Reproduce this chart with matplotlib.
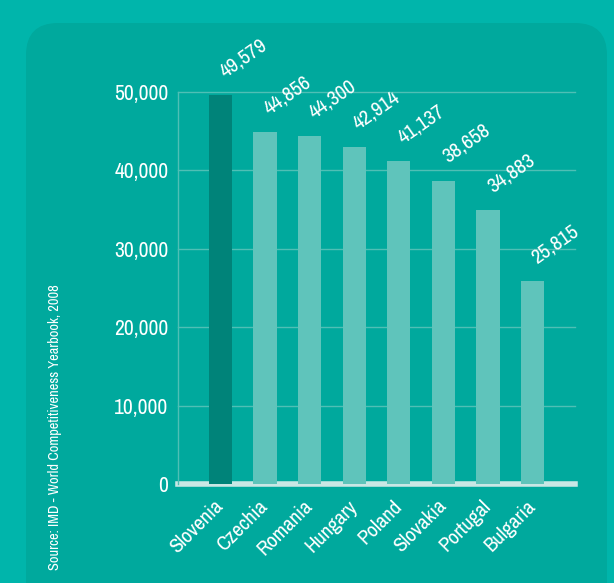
import matplotlib.pyplot as plt
from matplotlib import font_manager
from matplotlib.patches import FancyBboxPatch

countries = ["Slovenia", "Czechia", "Romania", "Hungary", "Poland",
             "Slovakia", "Portugal", "Bulgaria"]
values = [49579, 44856, 44300, 42914, 41137, 38658, 34883, 25815]
yticks = [0, 10000, 20000, 30000, 40000, 50000]
source_note = "Source: IMD - World Competitiveness Yearbook, 2008"

OUTER_BG = "#00b5ab"
CORNER_BG = "#00aca1"
PANEL_BG = "#00a99d"
HIGHLIGHT = "#008379"
BAR_COLOR = "#5fc4bb"
GRID_COLOR = "#4fbfb5"
BASE_COLOR = "#c9e7e5"
TEXT_COLOR = "white"

# condensed face if one is installed
names = sorted({f.name for f in font_manager.fontManager.ttflist})
condensed = [n for n in names if "Narrow" in n or "Condensed" in n]
plt.rcParams["font.family"] = condensed + ["Liberation Sans", "DejaVu Sans"]

fig = plt.figure(figsize=(6.14, 5.83), dpi=100)
fig.patch.set_facecolor(CORNER_BG)

# outer rounded container and inner panel (in inches)
outer = FancyBboxPatch((0.0, -1.0), 7.0, 6.83 + 1.0,
                       boxstyle="round,pad=0,rounding_size=0.4",
                       transform=fig.dpi_scale_trans, facecolor=OUTER_BG,
                       edgecolor="none", zorder=-3)
fig.patches.append(outer)
panel = FancyBboxPatch((0.26, -1.0), 5.81, 5.60 + 1.0,
                       boxstyle="round,pad=0,rounding_size=0.32",
                       transform=fig.dpi_scale_trans, facecolor=PANEL_BG,
                       edgecolor="none", zorder=-2)
fig.patches.append(panel)

ax = fig.add_axes([0.2899, 0.1698, 0.6466, 0.6729])
ax.set_facecolor("none")

x = range(len(countries))
colors = [HIGHLIGHT] + [BAR_COLOR] * (len(countries) - 1)
ax.bar(x, values, width=0.52, color=colors, zorder=3)

ax.set_xlim(-0.95, 7.95)
ax.set_ylim(0, 50000)

for t in yticks[1:]:
    ax.axhline(t, color=GRID_COLOR, linewidth=1, zorder=1, clip_on=False)
ax.axhline(0, color=BASE_COLOR, linewidth=4, zorder=2, clip_on=False)

for side in ["top", "right", "bottom"]:
    ax.spines[side].set_visible(False)
ax.spines["left"].set_color(GRID_COLOR)
ax.spines["left"].set_linewidth(1)

ax.set_yticks(yticks)
ax.set_yticklabels([f"{t:,}" for t in yticks], fontsize=15.5, color=TEXT_COLOR)
ax.tick_params(axis="y", length=0, pad=7)

ax.set_xticks([i - 0.15 for i in x])
ax.set_xticklabels(countries, rotation=45, ha="right", rotation_mode="anchor",
                   fontsize=15, color=TEXT_COLOR)
ax.tick_params(axis="x", length=0, pad=9)

for i, v in enumerate(values):
    ax.text(i + 0.15, v + 1800, f"{v:,}", rotation=35, rotation_mode="anchor",
            ha="left", va="bottom", fontsize=15, color=TEXT_COLOR, clip_on=False)

fig.text(55 / 614, 1 - 284 / 583, source_note, rotation=90, rotation_mode="anchor",
         ha="right", va="center", fontsize=10.3, color=TEXT_COLOR)

fig.savefig("out.png", dpi=100, facecolor=fig.get_facecolor())
